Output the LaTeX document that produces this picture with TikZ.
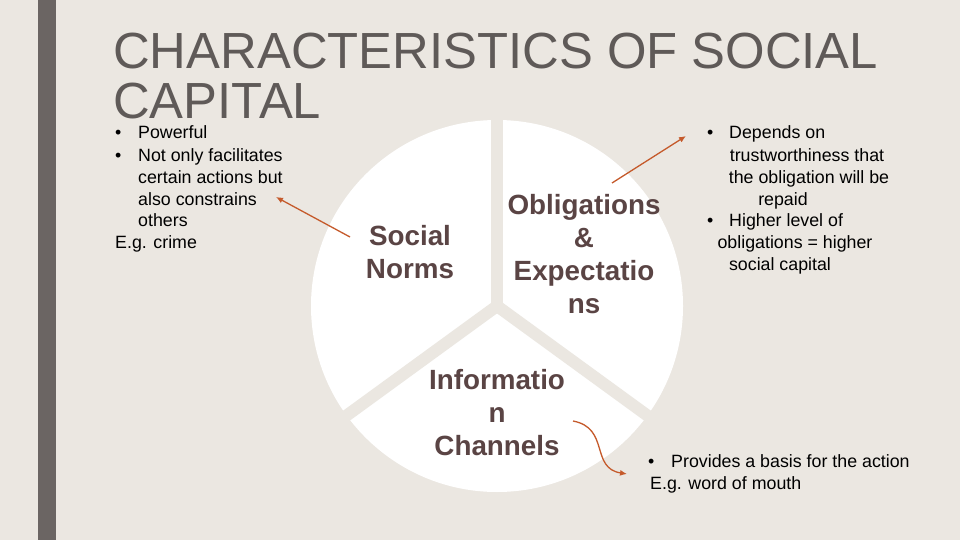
\documentclass[tikz,border=0pt]{standalone}
\usepackage{fontspec}
\setmainfont{Liberation Sans}
\usetikzlibrary{arrows.meta,calc}
\definecolor{bg}{HTML}{EBE7E1}
\definecolor{bar}{HTML}{6B6563}
\definecolor{ttl}{HTML}{5F5A58}
\definecolor{pietxt}{HTML}{5A4444}
\definecolor{arr}{HTML}{C55A2B}
\tikzset{
 body/.style={font=\fontsize{17.8}{22}\selectfont, text=black, inner sep=0pt, anchor=base west},
 bodyc/.style={font=\fontsize{17.8}{22}\selectfont, text=black, inner sep=0pt, anchor=base},
 pielbl/.style={font=\bfseries\fontsize{27.8}{33}\selectfont, text=pietxt, align=center, inner sep=0pt},
 pointer/.style={draw=arr, line width=1.3pt, -{Latex[length=7pt,width=6pt]}},
 gap/.style={draw=bg, line width=12pt}
}
\begin{document}
\begin{tikzpicture}[x=1pt,y=-1pt]
\useasboundingbox (0,0) rectangle (960,540);
\fill[bg] (0,0) rectangle (960,540);
\fill[bar] (38,0) rectangle (56,540);
\node[font=\fontsize{50.8}{50}\selectfont, text=ttl, anchor=base west, inner sep=0pt, align=left] (title) at (113,119) {CHARACTERISTICS OF SOCIAL\\CAPITAL};
% pie
\coordinate (c) at (497,306);
\fill[white] (c) circle[radius=186];
\draw[gap] (c) -- ($(c)+(0,-200)$);
\draw[gap] (c) -- ($(c)+(-173,126)$);
\draw[gap] (c) -- ($(c)+(173,126)$);
\node[pielbl] (sn) at (410,252) {Social\\Norms};
\node[pielbl] (oe) at (584,254) {Obligations\\\&\\Expectatio\\ns};
\node[pielbl] (ic) at (497,413) {Informatio\\n\\Channels};
% left text
\node[body] (l0) at (115,139) {•};
\node[body] (l1) at (138,139) {Powerful};
\node[body] (l2) at (115,161) {•};
\node[body] (l3) at (138,161) {Not only facilitates};
\node[body] (l4) at (138,183) {certain actions but};
\node[body] (l5) at (138,205) {also constrains};
\node[body] (l6) at (138,226) {others};
\node[body] (l7) at (115,248) {E.g. crime};
% right text
\node[body] (r0) at (707,139) {•};
\node[body] (r1) at (729,139) {Depends on};
\node[bodyc] (r2) at (807,161) {trustworthiness that};
\node[bodyc] (r3) at (809,183) {the obligation will be};
\node[bodyc] (r4) at (783,205) {repaid};
\node[body] (r5) at (707,226) {•};
\node[body] (r6) at (729,226) {Higher level of};
\node[bodyc] (r7) at (795,248) {obligations = higher};
\node[bodyc] (r8) at (780,270) {social capital};
% bottom right
\node[body] (b0) at (648,467) {•};
\node[body] (b1) at (671,467) {Provides a basis for the action};
\node[body] (b2) at (650,489) {E.g. word of mouth};
% arrows
\coordinate (a1s) at (350,237);
\coordinate (a1e) at (276,197);
\coordinate (a2s) at (612,183);
\coordinate (a2e) at (686,136);
\coordinate (a3s) at (573,421);
\coordinate (a3e) at (627,474);
\draw[pointer] (a1s) -- (a1e);
\draw[pointer] (a2s) -- (a2e);
\draw[pointer] (a3s) .. controls (610,428) and (590,468) .. (a3e);
\end{tikzpicture}
\end{document}
